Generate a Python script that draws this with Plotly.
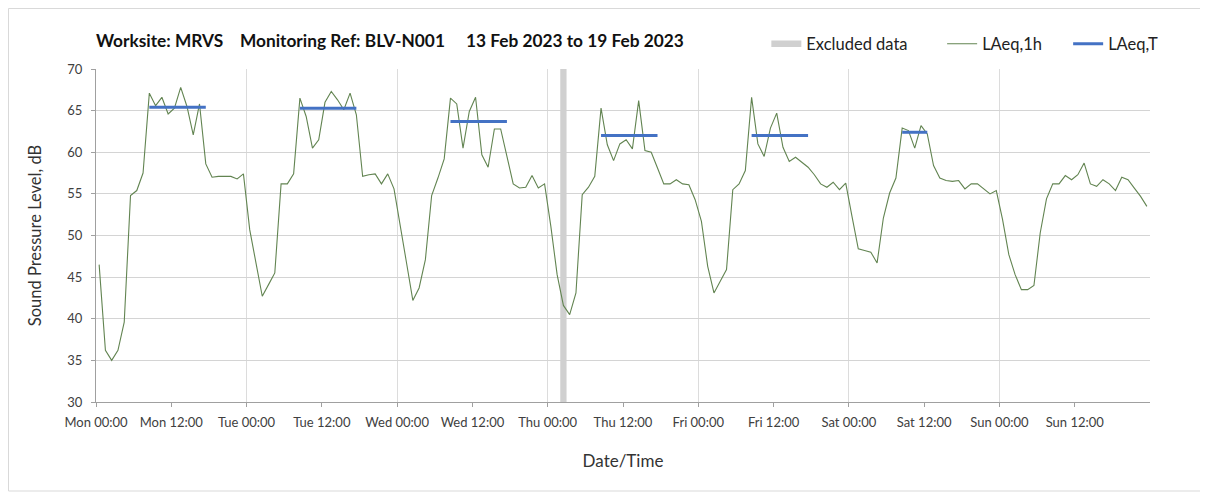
import plotly.graph_objects as go

# ---------------- data ----------------
day_names = ["Mon", "Tue", "Wed", "Thu", "Fri", "Sat", "Sun"]
tick_hours = list(range(0, 168, 12))
tick_labels = [f"{day_names[h // 24]} {h % 24:02d}:00" for h in tick_hours]

# hourly LAeq,1h values, Mon 00:00 .. Sun 23:00 (168 values)
laeq_1h = [
    # Mon
    46.5, 36.2, 35.0, 36.2, 39.6, 54.8, 55.4, 57.5, 67.1, 65.6, 66.6, 64.6,
    65.3, 67.8, 65.5, 62.1, 65.8, 58.6, 57.0, 57.1, 57.1, 57.1, 56.8, 57.4,
    # Tue
    50.7, 46.7, 42.7, 44.1, 45.5, 56.2, 56.2, 57.4, 66.5, 64.3, 60.5, 61.5,
    66.0, 67.3, 66.3, 65.1, 67.1, 64.5, 57.1, 57.3, 57.4, 56.2, 57.4, 55.6,
    # Wed
    50.9, 46.7, 42.2, 43.7, 47.1, 54.8, 56.9, 59.2, 66.5, 65.8, 60.5, 64.9,
    66.6, 59.7, 58.2, 62.8, 62.8, 59.5, 56.2, 55.7, 55.8, 57.2, 55.7, 56.2,
    # Thu
    51.1, 45.3, 41.6, 40.5, 43.1, 54.9, 55.8, 57.1, 65.3, 60.9, 59.0, 61.0,
    61.5, 60.4, 66.2, 60.2, 60.0, 58.1, 56.2, 56.2, 56.7, 56.2, 56.1, 54.3,
    # Fri
    51.7, 46.3, 43.1, 44.5, 45.9, 55.5, 56.2, 57.8, 66.6, 61.0, 59.5, 62.9,
    64.7, 60.6, 58.9, 59.4, 58.8, 58.2, 57.3, 56.2, 55.8, 56.4, 55.5, 56.3,
    # Sat
    52.3, 48.4, 48.2, 48.0, 46.7, 52.1, 55.1, 56.9, 62.9, 62.6, 60.5, 63.2,
    62.2, 58.4, 56.9, 56.6, 56.5, 56.6, 55.6, 56.2, 56.2, 55.6, 55.0, 55.4,
    # Sun
    51.9, 47.7, 45.3, 43.5, 43.5, 44.0, 50.3, 54.4, 56.2, 56.2, 57.2, 56.7,
    57.3, 58.7, 56.2, 55.9, 56.7, 56.2, 55.4, 57.0, 56.7, 55.7, 54.7, 53.5,
]

# LAeq,T daytime periods: start hour index, end hour index, level
laeq_t_start = [8, 32, 56, 80, 104, 128]
laeq_t_end = [17, 41, 65, 89, 113, 132]
laeq_t_value = [65.4, 65.3, 63.7, 62.0, 62.0, 62.4]

# excluded data (hour index)
excluded_hours = [74]

Y_MIN, Y_MAX = 30, 70

# ---------------- figure ----------------
hours = list(range(len(laeq_1h)))
x_pts = [h + 0.5 for h in hours]

t_x, t_y = [], []
for s, e, v in zip(laeq_t_start, laeq_t_end, laeq_t_value):
    t_x += [s + 0.5, e + 0.5, None]
    t_y += [v, v, None]

ex_x, ex_y = [], []
for h in excluded_hours:
    ex_x += [h + 0.5, h + 0.5, None]
    ex_y += [Y_MIN, Y_MAX, None]

NB = "\u00a0"

fig = go.Figure()

fig.add_trace(go.Scatter(
    x=ex_x, y=ex_y, mode="lines",
    line=dict(color="#d0d0d0", width=6.3),
    name="Excluded data" + NB * 7,
    hoverinfo="skip",
))

fig.add_trace(go.Scatter(
    x=x_pts, y=laeq_1h, mode="lines",
    line=dict(color="#628451", width=1.1),
    name="LAeq,1h" + NB * 5,
))

fig.add_trace(go.Scatter(
    x=t_x, y=t_y, mode="lines",
    line=dict(color="#4472c4", width=3),
    name="LAeq,T",
))

FONT = "Lato, 'Noto Sans', sans-serif"
S = "&nbsp;"

L, T, R, B = 88, 61, 66, 101
pw, ph = 1208 - L - R, 495 - T - B

fig.update_layout(
    width=1208, height=495,
    margin=dict(l=L, r=R, t=T, b=B),
    paper_bgcolor="white",
    plot_bgcolor="white",
    font=dict(family=FONT, color="#404040", size=13),
    title=dict(
        text="<b>Worksite: MRVS" + S * 3 + " Monitoring Ref: BLV-N001" + S * 4
             + " 13 Feb 2023 to 19 Feb 2023</b>",
        x=0.0, xref="paper", xanchor="left",
        y=1 - 33 / 495, yanchor="middle",
        font=dict(family=FONT, size=17.3, color="#111111"),
    ),
    showlegend=True,
    legend=dict(
        orientation="h",
        x=0.636, xanchor="left",
        y=1 + 25 / ph, yanchor="middle",
        font=dict(family=FONT, size=16.5, color="#222222"),
        bgcolor="rgba(0,0,0,0)",
        traceorder="normal",
        itemwidth=30,
    ),
    xaxis=dict(
        range=[0, 168],
        tickvals=tick_hours,
        ticktext=tick_labels,
        showgrid=False,
        ticks="outside", ticklen=4, tickcolor="#a0a0a0",
        ticklabelstandoff=4,
        showline=True, linecolor="#a0a0a0", linewidth=1,
        zeroline=False,
        tickfont=dict(size=13, color="#404040"),
        title=dict(text="Date/Time", font=dict(size=17, color="#333333"), standoff=26),
        minor=dict(tick0=0, dtick=24, showgrid=True, gridcolor="#dcdcdc",
                   gridwidth=1, ticks=""),
    ),
    yaxis=dict(
        range=[Y_MIN, Y_MAX],
        tickvals=[30, 35, 40, 45, 50, 55, 60, 65, 70],
        showgrid=True, gridcolor="#d4d4d4", gridwidth=1,
        ticks="outside", ticklen=4, tickcolor="#a0a0a0",
        ticklabelstandoff=6,
        showline=True, linecolor="#a0a0a0", linewidth=1,
        zeroline=False,
        tickfont=dict(size=13, color="#404040"),
        title=dict(text="Sound Pressure Level, dB", font=dict(size=16.5, color="#333333"),
                   standoff=21),
    ),
)

# outer frame of the chart
fig.add_shape(
    type="rect", xref="paper", yref="paper",
    x0=(0.5 - L) / pw, x1=(1196 - L) / pw,
    y0=-(483 - T - ph) / ph, y1=(T + ph - 0.5) / ph,
    line=dict(color="#d9d9d9", width=1), fillcolor="rgba(0,0,0,0)",
    layer="below",
)

fig.write_html("out.html")
